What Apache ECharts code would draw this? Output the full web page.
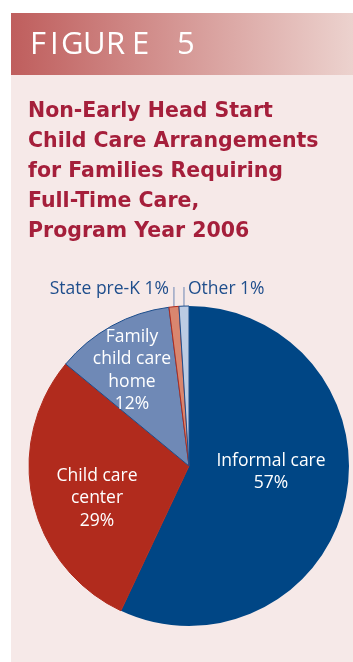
<!DOCTYPE html>
<html>
<head>
<meta charset="utf-8">
<script src="https://cdn.jsdelivr.net/npm/echarts@6/dist/echarts.min.js"></script>
<style>
html,body{margin:0;padding:0;background:#fff;}
#c{width:353px;height:662px;}
</style>
</head>
<body>
<div id="c"></div>
<script>
var figureLabel = 'FIGURE 5';
var titleLines = ['Non-Early Head Start', 'Child Care Arrangements', 'for Families Requiring', 'Full-Time Care,', 'Program Year 2006'];
var categories = ['Informal care', 'Child care center', 'Family child care home', 'State pre-K', 'Other'];
var labelTexts = ['Informal care\n57%', 'Child care\ncenter\n29%', 'Family\nchild care\nhome\n12%', 'State pre-K 1%', 'Other 1%'];
var values = [57, 29, 12, 1, 1];

var colors = ['#004685', '#b12b1d', '#6f89b6', '#d9866f', '#bccbe3'];
var borders = ['#004685', '#b12b1d', '#1d4e8c', '#b12b1d', '#1d4e8c'];
var insideOffsets = [[1, -12], [-11, 14], [-17, -23]];

var CX = 189, CY = 466, R = 160;
var total = values.reduce(function (a, b) { return a + b; }, 0);
function midAngle(i) {
  var s = 0;
  for (var k = 0; k < i; k++) s += values[k];
  return (s + values[i] / 2) / total * 2 * Math.PI;
}

var chart = echarts.init(document.getElementById('c'), null, {renderer: 'canvas'});

var letterX = [30, 50, 61, 83, 106, 132, 177];
var letters = figureLabel.replace(/ /g, '').split('');
var graphics = [
  {type: 'rect', shape: {x: 11, y: 75, width: 342, height: 587}, style: {fill: '#f6e9e8'}, z: -10},
  {type: 'rect', shape: {x: 11, y: 13, width: 342, height: 62},
   style: {fill: new echarts.graphic.LinearGradient(0, 0, 1, 0, [
     {offset: 0, color: '#bf5e5d'}, {offset: 1, color: '#ecd2ce'}])}, z: -10}
];
letters.forEach(function (ch, i) {
  graphics.push({type: 'text', x: letterX[i], y: 45,
    style: {text: ch, fill: '#ffffff', font: '400 31px "Open Sans"', textVerticalAlign: 'middle'}});
});
titleLines.forEach(function (t, i) {
  graphics.push({type: 'text', x: 28, y: 112 + i * 30,
    style: {text: t, fill: '#a51f3b', font: 'bold 20.5px "DejaVu Sans"', textVerticalAlign: 'middle'}});
});

var data = categories.map(function (c, i) {
  var item = {
    name: c, value: values[i],
    itemStyle: {color: colors[i], borderColor: borders[i], borderWidth: i === 0 ? 0 : 1}
  };
  if (i < 3) {
    item.label = {show: true, position: 'inside', formatter: labelTexts[i], color: '#ffffff',
      fontFamily: 'Open Sans', fontSize: 17.5, lineHeight: 22.5, align: 'center', offset: insideOffsets[i]};
    item.labelLine = {show: false};
  } else {
    item.label = {show: true, position: 'outside', formatter: labelTexts[i], color: '#1f4e8c',
      fontFamily: 'Open Sans', fontSize: 17.5, overflow: 'none', width: 200};
    item.labelLine = {show: true, lineStyle: {color: '#6d87b3', width: 1}};
  }
  return item;
});

chart.setOption({
  animation: false,
  graphic: graphics,
  series: [{
    type: 'pie',
    center: [CX, CY],
    radius: [0, R],
    startAngle: 90,
    clockwise: true,
    data: data,
    labelLayout: function (p) {
      var i = p.dataIndex;
      if (i < 3) return {};
      var a = midAngle(i);
      var lx = CX + R * Math.sin(a);
      var ly = CY - R * Math.cos(a);
      if (i === 3) {
        return {x: lx - 5, y: 289, align: 'right', verticalAlign: 'middle',
          labelLinePoints: [[lx, 287], [lx, 296], [lx, ly]]};
      }
      return {x: lx + 4, y: 289, align: 'left', verticalAlign: 'middle',
        labelLinePoints: [[lx, 287], [lx, 296], [lx, ly]]};
    }
  }]
});
</script>
</body>
</html>
